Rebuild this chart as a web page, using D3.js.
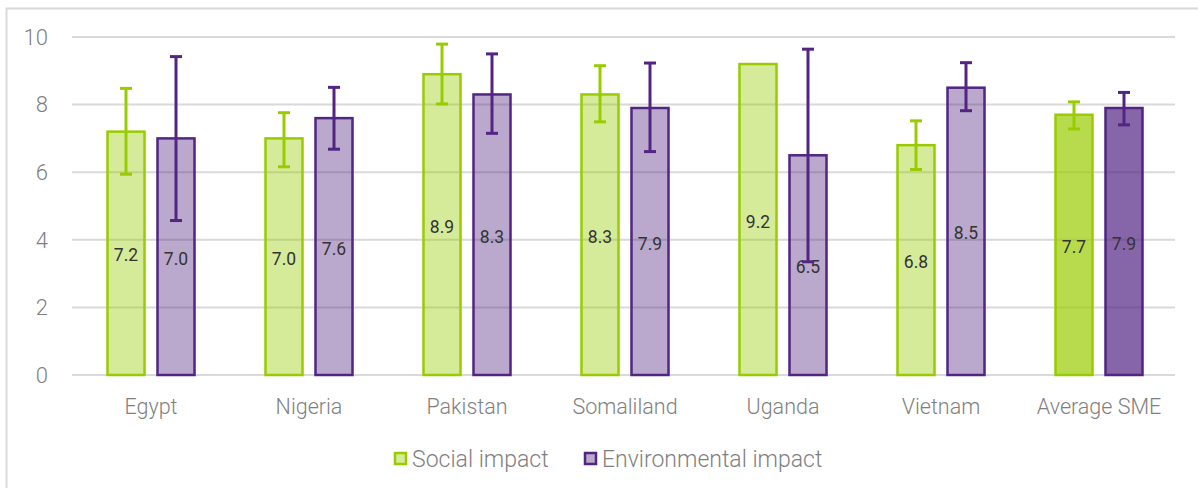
<!DOCTYPE html>
<html lang="en">
<head>
    <meta charset="UTF-8">
    <title>Social and Environmental Impact</title>
    <script src="https://d3js.org/d3.v7.min.js"></script>
    <style>
        body { margin: 0; background: white; }
        svg { display: block; font-family: Roboto, "Noto Sans", sans-serif; }
        .tick-label { fill: #7f7f7f; font-size: 22px; font-weight: 300; }
        .cat-label { fill: #7f7f7f; font-size: 21.5px; font-weight: 300; }
        .value-label { fill: #333; font-size: 17.5px; }
        .legend-label { fill: #7f7f7f; font-size: 23px; font-weight: 300; }
    </style>
</head>
<body>
<div id="chart"></div>
<script>
    // chart values
    const categories = ["Egypt", "Nigeria", "Pakistan", "Somaliland", "Uganda", "Vietnam", "Average SME"];
    const social = [7.2, 7.0, 8.9, 8.3, 9.2, 6.8, 7.7];
    const environmental = [7.0, 7.6, 8.3, 7.9, 6.5, 8.5, 7.9];
    // error bar ends (null = no error bar)
    const socialLow = [5.94, 6.16, 8.02, 7.49, null, 6.08, 7.28];
    const socialHigh = [8.48, 7.76, 9.79, 9.15, null, 7.52, 8.08];
    const envLow = [4.57, 6.68, 7.15, 6.61, 3.35, 7.82, 7.40];
    const envHigh = [9.42, 8.51, 9.50, 9.23, 9.64, 9.24, 8.36];
    const yTicks = [0, 2, 4, 6, 8, 10];
    const seriesNames = ["Social impact", "Environmental impact"];

    const W = 1198, H = 488;
    const margin = { top: 37, right: 20, bottom: 113, left: 72 };
    const plotW = 1178 - margin.left;
    const plotH = H - margin.top - margin.bottom;

    const green = "#99cc00", purple = "#522583";

    const svg = d3.select("#chart").append("svg")
        .attr("width", W)
        .attr("height", H);

    // outer frame (only top and left edges are in view)
    svg.append("path")
        .attr("d", "M6.5," + H + " V8.5 H" + W)
        .attr("fill", "none")
        .attr("stroke", "#d9d9d9")
        .attr("stroke-width", 2);

    const g = svg.append("g")
        .attr("transform", `translate(${margin.left},${margin.top})`);

    const x = d3.scaleBand()
        .domain(categories)
        .range([0, plotW]);

    const x1 = d3.scaleBand()
        .domain(["social", "env"])
        .range([0, 87])
        .paddingInner(0.26);

    const y = d3.scaleLinear()
        .domain([0, 10])
        .range([plotH, 0]);

    // gridlines
    g.selectAll(".grid")
        .data(yTicks)
        .enter()
        .append("line")
        .attr("x1", 0)
        .attr("x2", plotW - 3)
        .attr("y1", d => y(d))
        .attr("y2", d => y(d))
        .attr("stroke", "#d9d9d9")
        .attr("stroke-width", 2);

    // y tick labels
    g.selectAll(".tick-label")
        .data(yTicks)
        .enter()
        .append("text")
        .attr("class", "tick-label")
        .attr("x", -24)
        .attr("y", d => y(d))
        .attr("dy", "0.35em")
        .attr("text-anchor", "end")
        .text(d => d);

    // build rows for both series
    const rows = [];
    categories.forEach((c, i) => {
        const avg = c === "Average SME";
        rows.push({ cat: c, key: "social", v: social[i], lo: socialLow[i], hi: socialHigh[i], color: green, op: avg ? 0.7 : 0.4 });
        rows.push({ cat: c, key: "env", v: environmental[i], lo: envLow[i], hi: envHigh[i], color: purple, op: avg ? 0.7 : 0.4 });
    });

    const band = (plotW / categories.length - 87) / 2;
    const bx = d => x(d.cat) + band + x1(d.key);

    // bars
    g.selectAll(".bar")
        .data(rows)
        .enter()
        .append("rect")
        .attr("x", bx)
        .attr("y", d => y(d.v))
        .attr("width", x1.bandwidth())
        .attr("height", d => y(0) - y(d.v))
        .attr("fill", d => d.color)
        .attr("fill-opacity", d => d.op)
        .attr("stroke", d => d.color)
        .attr("stroke-width", 2.5);

    // value labels in middle of bars
    g.selectAll(".value-label")
        .data(rows)
        .enter()
        .append("text")
        .attr("class", "value-label")
        .attr("x", d => bx(d) + x1.bandwidth() / 2)
        .attr("y", d => y(d.v / 2) + 2)
        .attr("dy", "0.35em")
        .attr("text-anchor", "middle")
        .text(d => d3.format(".1f")(d.v));

    // error bars
    const errs = rows.filter(d => d.lo != null);
    const eg = g.selectAll(".err")
        .data(errs)
        .enter()
        .append("g")
        .attr("stroke", d => d.color)
        .attr("stroke-width", 3);
    eg.append("line")
        .attr("x1", d => bx(d) + x1.bandwidth() / 2)
        .attr("x2", d => bx(d) + x1.bandwidth() / 2)
        .attr("y1", d => y(d.lo))
        .attr("y2", d => y(d.hi));
    ["lo", "hi"].forEach(k => {
        eg.append("line")
            .attr("x1", d => bx(d) + x1.bandwidth() / 2 - 6)
            .attr("x2", d => bx(d) + x1.bandwidth() / 2 + 6)
            .attr("y1", d => y(d[k]))
            .attr("y2", d => y(d[k]));
    });

    // category labels
    g.selectAll(".cat-label")
        .data(categories)
        .enter()
        .append("text")
        .attr("class", "cat-label")
        .attr("x", d => x(d) + x.bandwidth() / 2)
        .attr("y", plotH + 39)
        .attr("text-anchor", "middle")
        .text(d => d);

    // legend
    const legendX = [395, 585];
    const legendColors = [green, purple];
    const lg = svg.selectAll(".legend")
        .data(seriesNames)
        .enter()
        .append("g")
        .attr("transform", (d, i) => `translate(${legendX[i]},453)`);
    lg.append("rect")
        .attr("width", 11)
        .attr("height", 11)
        .attr("fill", (d, i) => legendColors[i])
        .attr("fill-opacity", 0.4)
        .attr("stroke", (d, i) => legendColors[i])
        .attr("stroke-width", 2.5);
    lg.append("text")
        .attr("class", "legend-label")
        .attr("x", 17)
        .attr("y", 14)
        .text(d => d);
</script>
</body>
</html>
